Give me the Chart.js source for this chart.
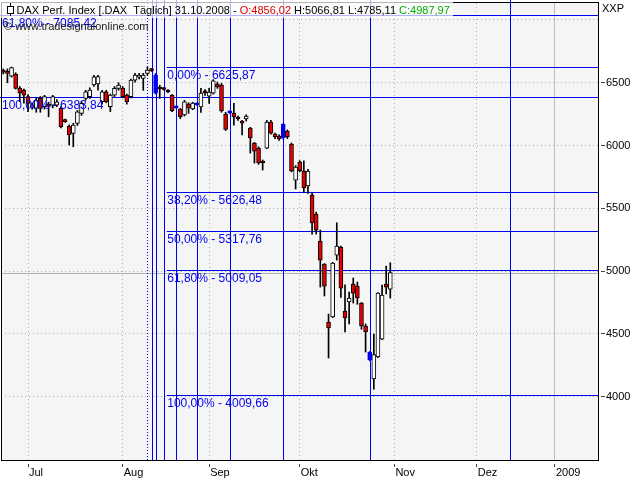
<!DOCTYPE html>
<html>
<head>
<meta charset="utf-8">
<script src="https://cdn.jsdelivr.net/npm/chart.js@4.4.1/dist/chart.umd.min.js"></script>
<style>
  html, body { margin: 0; padding: 0; background: #fff; }
  #wrap { width: 640px; height: 480px; }
</style>
</head>
<body>
<div id="wrap"><canvas id="chart" width="640" height="480"></canvas></div>
<script>
// x axis = trading day index (0 = 23.06.2008, 94 = 31.10.2008)
const monthTicks  = [6, 29, 50, 72, 95, 115, 134];
const monthLabels = ['Jul', 'Aug', 'Sep', 'Okt', 'Nov', 'Dez', '2009'];
const yTicks = [4000, 4500, 5000, 5500, 6000, 6500, 7000];

const opens = [6595, 6590, 6553, 6569, 6458, 6442, 6390, 6305, 6296, 6376,
  6309, 6318, 6322, 6322, 6296, 6203, 6155, 6097, 6177, 6256,
  6376, 6389, 6482, 6490, 6350, 6428, 6309, 6402, 6455, 6455,
  6402, 6389, 6521, 6545, 6535, 6575, 6601, 6561, 6458, 6452,
  6442, 6402, 6309, 6291, 6243, 6330, 6291, 6330, 6307, 6430,
  6394, 6416, 6490, 6482, 6251, 6265, 6259, 6227, 6195, 6211,
  6139, 6020, 5980, 5877, 5980, 6187, 6092, 6076, 6171, 6115,
  6012, 5725, 5869, 5797, 5678, 5606, 5455, 5240, 5056, 4595,
  4635, 5128, 5192, 4682, 4754, 4897, 4881, 4746, 4563, 4356,
  4141, 4316, 4459, 4897, 4856.02];
const highs = [6610, 6610, 6625, 6580, 6470, 6450, 6405, 6340, 6380, 6390,
  6400, 6345, 6400, 6365, 6310, 6210, 6165, 6177, 6280, 6350,
  6440, 6460, 6560, 6560, 6440, 6440, 6410, 6470, 6500, 6470,
  6410, 6530, 6575, 6575, 6575, 6625.87, 6615, 6575, 6480, 6460,
  6445, 6405, 6312, 6295, 6360, 6341, 6345, 6340, 6455, 6445,
  6455, 6525, 6505, 6495, 6265, 6275, 6336, 6235, 6200, 6245,
  6145, 6025, 5990, 5885, 6200, 6200, 6100, 6085, 6175, 6125,
  6020, 5840, 5880, 5879, 5810, 5620, 5470, 5327, 5060, 4658,
  5070, 5385, 5200, 4890, 4833, 4945, 4913, 4750, 4579, 4360,
  4499, 4830, 4889, 5040, 5066.81];
const lows = [6570, 6500, 6545, 6450, 6349, 6338, 6269, 6290, 6265, 6265,
  6290, 6229, 6300, 6310, 6140, 6185, 6004, 5990, 6160, 6240,
  6360, 6375, 6470, 6440, 6330, 6340, 6270, 6390, 6440, 6380,
  6330, 6380, 6505, 6530, 6440, 6560, 6590, 6410, 6375, 6440,
  6420, 6270, 6295, 6215, 6235, 6256, 6285, 6320, 6264, 6400,
  6336, 6410, 6455, 6265, 6120, 6255, 6163, 6200, 6084, 6195,
  5940, 5860, 5850, 5805, 5975, 6090, 6055, 6040, 6050, 6055,
  5790, 5654, 5790, 5627, 5619, 5295, 5295, 4873, 4802, 4308,
  4630, 5088, 4790, 4515, 4579, 4746, 4736, 4537, 4356, 4285,
  4061, 4310, 4455, 4818, 4785.11];
const closes = [6585, 6575, 6620, 6455, 6418, 6402, 6336, 6322, 6362, 6296,
  6389, 6312, 6389, 6349, 6150, 6190, 6084, 6163, 6269, 6336,
  6428, 6442, 6548, 6550, 6428, 6350, 6402, 6455, 6482, 6389,
  6349, 6521, 6561, 6553, 6561, 6601, 6596, 6416, 6450, 6446,
  6426, 6277, 6300, 6229, 6349, 6299, 6338, 6325, 6418, 6420,
  6426, 6516, 6466, 6275, 6129, 6260, 6227, 6211, 6179, 6235,
  6060, 5956, 5861, 5861, 6187, 6099, 6068, 6052, 6060, 6068,
  5797, 5829, 5797, 5662, 5797, 5383, 5327, 5088, 4881, 4547,
  5064, 5200, 4865, 4627, 4786, 4825, 4786, 4563, 4515, 4292,
  4335, 4825, 4810, 4873, 4987.97];

// Fibonacci time zones and retracements
const timeLines = [35, 36, 37, 39, 42, 47, 55, 68, 89, 123];
const blueCandles = [37, 42, 47, 55, 68, 89];
const fibRightStart = 39.7;
const fibRightLevels = [6625.87, 5626.48, 5317.76, 5009.05, 4009.66];
const fibRightTexts = ['0,00% - 6625,87', '38,20% - 5626,48', '50,00% - 5317,76', '61,80% - 5009,05', '100,00% - 4009,66'];
const fibLeftLevels = [7040, 6383.84];
const fibLeftTexts = ['61,80% - 7085,42', '100,00% - 6383,84'];

const idx = opens.map((_, i) => i);
const isBlue = i => blueCandles.includes(i);
const BLUE = '#0000f0';

const overlay = {
  id: 'overlay',
  beforeDraw(chart) {
    const {ctx, chartArea: a} = chart;
    ctx.save();
    ctx.fillStyle = '#f5f5f5';
    ctx.fillRect(a.left, a.top, a.right - a.left, a.bottom - a.top);
    ctx.restore();
  },
  beforeDatasetsDraw(chart) {
    const {ctx, chartArea: a, scales: {x, y}} = chart;
    ctx.save();
    ctx.lineWidth = 1;
    // last close
    let py = Math.round(y.getPixelForValue(closes[closes.length - 1])) + 0.5;
    ctx.strokeStyle = '#a8b8a8';
    ctx.beginPath(); ctx.moveTo(a.left, py); ctx.lineTo(a.right, py); ctx.stroke();
    // time zones
    ctx.strokeStyle = BLUE;
    timeLines.forEach((t, k) => {
      const px = Math.round(x.getPixelForValue(t)) + 0.5;
      ctx.setLineDash(k === 0 ? [1, 2] : []);
      ctx.beginPath(); ctx.moveTo(px, 0); ctx.lineTo(px, a.bottom); ctx.stroke();
    });
    ctx.setLineDash([]);
    fibLeftLevels.forEach(v => {
      const p = Math.round(y.getPixelForValue(v)) + 0.5;
      ctx.beginPath(); ctx.moveTo(0, p); ctx.lineTo(a.right, p); ctx.stroke();
    });
    const x0 = x.getPixelForValue(fibRightStart);
    fibRightLevels.forEach(v => {
      const p = Math.round(y.getPixelForValue(v)) + 0.5;
      ctx.beginPath(); ctx.moveTo(x0, p); ctx.lineTo(a.right, p); ctx.stroke();
    });
    ctx.restore();
  },
  afterDatasetsDraw(chart) {
    const {ctx, chartArea: a, scales: {x, y}} = chart;
    ctx.save();
    ctx.font = '12px "Liberation Sans"';
    ctx.fillStyle = BLUE;
    ctx.textBaseline = 'alphabetic';
    const x0 = x.getPixelForValue(fibRightStart);
    fibRightLevels.forEach((v, k) => {
      ctx.fillText(fibRightTexts[k], x0 + 0.5, Math.round(y.getPixelForValue(v)) + 12);
    });
    fibLeftLevels.forEach((v, k) => {
      ctx.fillText(fibLeftTexts[k], 2, Math.round(y.getPixelForValue(v)) + 12);
    });

    // frame
    ctx.strokeStyle = '#000';
    ctx.lineWidth = 1;
    ctx.strokeRect(a.left + 0.5, a.top - 0.5, a.right - a.left, a.bottom - a.top + 1);

    // watermark
    ctx.font = '11px "Liberation Sans"';
    ctx.fillStyle = '#222';
    ctx.fillText('\u00a9 www.tradesignalonline.com', 4, 30);

    // header
    ctx.fillStyle = 'rgba(255,255,255,0.7)';
    ctx.fillRect(0, 0, 453, 18);
    ctx.strokeStyle = '#000';
    ctx.beginPath();
    ctx.moveTo(10.5, 3); ctx.lineTo(10.5, 16);
    ctx.stroke();
    ctx.fillStyle = '#fff';
    ctx.fillRect(8, 7, 5, 6);
    ctx.strokeRect(7.5, 6.5, 6, 7);
    const parts = [
      ['DAX Perf. Index [.DAX  T\u00e4glich] 31.10.2008 - ', '#000'],
      ['O:4856,02', '#e00000'],
      [' H:5066,81 L:4785,11 ', '#000'],
      ['C:4987,97', '#00b000']
    ];
    let tx = 16.5;
    parts.forEach(([s, c]) => {
      ctx.fillStyle = c;
      ctx.fillText(s, tx, 14);
      tx += ctx.measureText(s).width;
    });
    ctx.fillStyle = '#000';
    ctx.fillText('XXP', 602, 12);
    ctx.restore();
  }
};

new Chart(document.getElementById('chart'), {
  type: 'bar',
  data: {
    datasets: [
      {
        label: 'body',
        data: idx.map(i => ({x: i, y: [opens[i], closes[i]]})),
        backgroundColor: idx.map(i => isBlue(i) ? BLUE : (closes[i] >= opens[i] ? '#ffffff' : '#e80000')),
        borderColor: idx.map(i => isBlue(i) ? BLUE : '#000'),
        borderWidth: 1,
        borderSkipped: false,
        barThickness: 4,
        minBarLength: 2,
        grouped: false,
        order: 0
      },
      {
        label: 'wick',
        data: idx.map(i => ({x: i, y: [lows[i], highs[i]]})),
        backgroundColor: idx.map(i => isBlue(i) ? BLUE : '#000'),
        borderWidth: 0,
        barThickness: 1,
        grouped: false,
        order: 1
      }
    ]
  },
  options: {
    responsive: false,
    animation: false,
    devicePixelRatio: 1,
    layout: {padding: {left: 1, top: 3, right: 0, bottom: 0}},
    plugins: {legend: {display: false}, tooltip: {enabled: false}},
    scales: {
      x: {
        type: 'linear',
        min: -0.56,
        max: 144.45,
        offset: false,
        afterBuildTicks(s) { s.ticks = monthTicks.map(v => ({value: v})); },
        afterFit(s) { s.height = 20; s.paddingLeft = 0; s.paddingRight = 0; },
        ticks: {
          callback: v => { const k = monthTicks.indexOf(v); return k < 0 ? '' : monthLabels[k]; },
          align: 'start',
          labelOffset: 1,
          padding: -1,
          autoSkip: false,
          maxRotation: 0,
          minRotation: 0,
          color: '#000',
          font: {family: 'Liberation Sans', size: 11}
        },
        grid: {
          offset: false,
          color: c => (c.tick && c.tick.value === 134) ? '#b4c4b4' : '#a8b4a8',
          tickLength: 7,
          tickColor: '#444',
          tickBorderDash: [3, 4],
          tickBorderDashOffset: 3
        },
        border: {display: false, dash: c => (c.tick && c.tick.value === 134) ? [] : [1, 3]}
      },
      y: {
        type: 'linear',
        position: 'right',
        min: 3496,
        max: 7135,
        afterBuildTicks(s) { s.ticks = yTicks.map(v => ({value: v})); },
        afterFit(s) { s.width = 42; s.paddingTop = 0; s.paddingBottom = 0; },
        ticks: {
          callback: v => v === 7000 ? '' : String(v),
          padding: 1,
          color: '#000',
          font: {family: 'Liberation Sans', size: 11}
        },
        grid: {
          color: '#b4b4b4',
          tickLength: 7,
          tickColor: c => (c.tick && c.tick.value === 7000) ? 'rgba(0,0,0,0)' : '#444',
          tickBorderDash: [4, 3],
          tickBorderDashOffset: 4
        },
        border: {display: false, dash: [1, 3]}
      }
    }
  },
  plugins: [overlay]
});
</script>
</body>
</html>
